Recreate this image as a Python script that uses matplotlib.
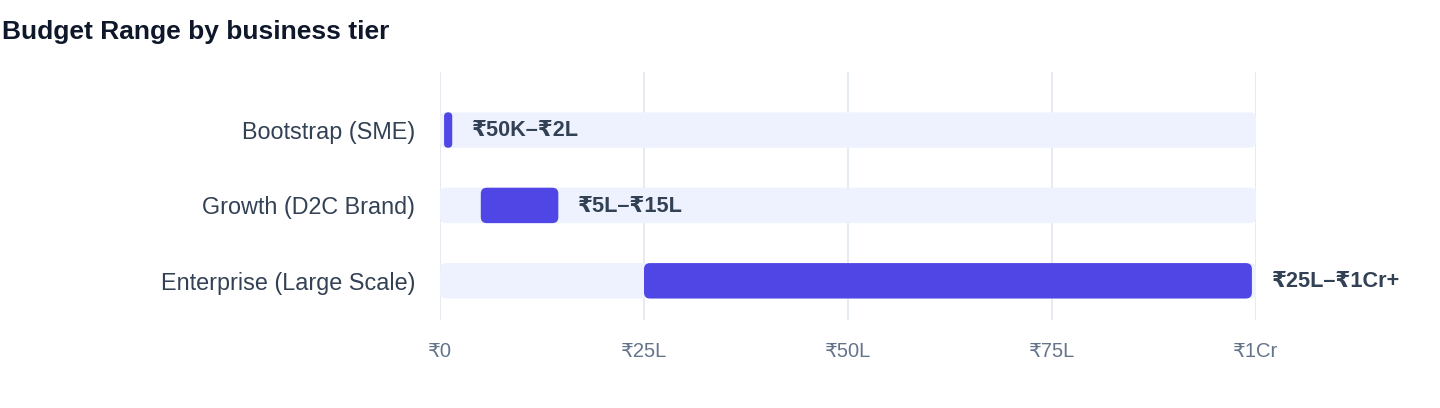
import matplotlib
matplotlib.use("Agg")
import matplotlib.pyplot as plt
from matplotlib.patches import FancyBboxPatch

plt.rcParams["font.family"] = ["Liberation Sans", "DejaVu Sans"]

TIERS = ["Bootstrap (SME)", "Growth (D2C Brand)", "Enterprise (Large Scale)"]
RANGE_LABELS = ["₹50K–₹2L", "₹5L–₹15L", "₹25L–₹1Cr+"]
# budget in lakhs
LOW = [0.5, 5.0, 25.0]
HIGH = [1.5, 14.5, 99.5]
AXIS_MAX = 100
TICKS = [0, 25, 50, 75, 100]
TICK_LABELS = ["₹0", "₹25L", "₹50L", "₹75L", "₹1Cr"]

BAR_COLOR = "#4f46e5"
TRACK_COLOR = "#eef2ff"
GRID_COLOR = "#e2e8f0"
LABEL_COLOR = "#334155"
TICK_COLOR = "#64748b"
TITLE_COLOR = "#0f172a"

W, H, DPI = 1440, 408, 100
BAR_H = 0.47
RADIUS_PX = 6


def rounded_bar(ax, x0, x1, y, color, px_x, px_y):
    width = x1 - x0
    r_px = min(RADIUS_PX, width * px_x / 2, BAR_H * px_y / 2)
    r = r_px / px_x
    patch = FancyBboxPatch(
        (x0, y - BAR_H / 2), width, BAR_H,
        boxstyle=f"round,pad=0,rounding_size={r}",
        mutation_aspect=px_x / px_y,
        facecolor=color, edgecolor="none", zorder=2,
    )
    ax.add_patch(patch)


fig = plt.figure(figsize=(W / DPI, H / DPI), dpi=DPI)
ax = fig.add_axes([440 / W, (H - 320) / H, 816 / W, 248 / H])
ax.set_xlim(0, AXIS_MAX)
ax.set_ylim(2.52, -0.77)

# pixels per data unit
px_x = 816 / AXIS_MAX
px_y = 248 / (2.52 + 0.77)

for i, (lo, hi) in enumerate(zip(LOW, HIGH)):
    rounded_bar(ax, 0, AXIS_MAX, i, TRACK_COLOR, px_x, px_y)
    rounded_bar(ax, lo, hi, i, BAR_COLOR, px_x, px_y)
    ax.annotate(
        RANGE_LABELS[i], (hi, i), xytext=(14.4, -0.5), textcoords="offset points",
        va="center", ha="left", fontsize=15.6, fontweight="bold",
        color=LABEL_COLOR, annotation_clip=False,
    )

for t in TICKS:
    ax.axvline(t, color=GRID_COLOR, linewidth=1.2, zorder=0)

ax.set_xticks(TICKS)
ax.set_xticklabels(TICK_LABELS)
ax.set_yticks(range(len(TIERS)))
ax.set_yticklabels(TIERS)
ax.tick_params(axis="x", length=0, pad=15.5, labelsize=14.5, labelcolor=TICK_COLOR)
ax.tick_params(axis="y", length=0, pad=18, labelsize=16.8, labelcolor=LABEL_COLOR)
for spine in ax.spines.values():
    spine.set_visible(False)

fig.text(2 / W, 1 - 32 / H, "Budget Range by business tier", ha="left", va="center",
         fontsize=19, fontweight="bold", color=TITLE_COLOR)

fig.savefig("out.png", dpi=DPI)
plt.close(fig)
